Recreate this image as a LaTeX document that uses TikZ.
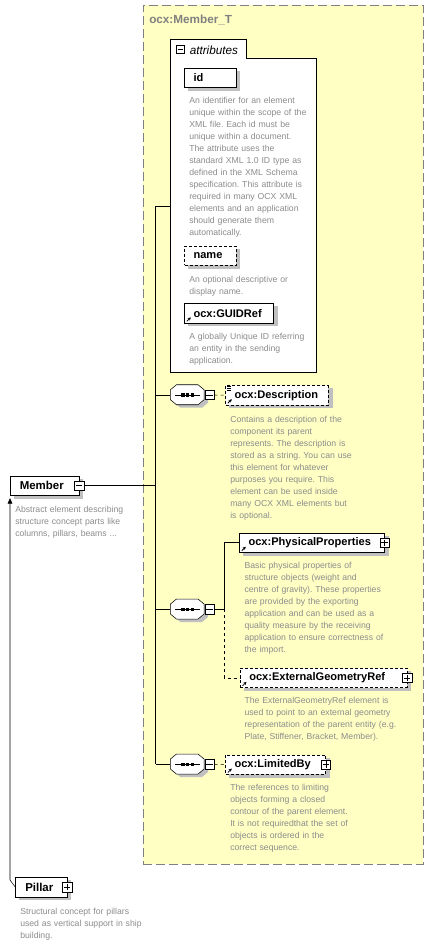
\documentclass[tikz,border=0pt]{standalone}
\usepackage{fontspec}
\setmainfont{Liberation Sans}
\usetikzlibrary{arrows.meta}
\frenchspacing
\pgfdeclarelayer{bglayer}
\pgfdeclarelayer{shadowlayer}
\pgfsetlayers{bglayer,shadowlayer,main}
\newlength\pxu
\setlength\pxu{0.75pt}
\definecolor{frameyellow}{HTML}{FFFFC4}
\definecolor{framegray}{HTML}{808080}
\definecolor{desccol}{HTML}{8C8C8C}
\definecolor{shadowcol}{HTML}{C0C0C0}
\newcommand\seqshape[1]{%
  \fill[shadowcol] ([shift={(4,3)}]#1.north west) ++(6,0) -- ++(21.6,0) -- ++(6,5) -- ++(0,10) -- ++(-6,5) -- ++(-21.6,0) -- ++(-6,-5) -- ++(0,-10) -- cycle;
  \draw[fill=white] (#1.north west) ++(6,0) -- ++(21.6,0) -- ++(6,5) -- ++(0,10) -- ++(-6,5) -- ++(-21.6,0) -- ++(-6,-5) -- ++(0,-10) -- cycle;
  \draw ([shift={(5,0)}]#1.west) -- ([shift={(-4.3,0)}]#1.east);
  \foreach \dx in {-4.6,0,4.6} \fill ([shift={(\dx-1.6,-1.6)}]#1.center) rectangle ++(3.2,3.2);
}
\newcommand\boxshadow[1]{\begin{pgfonlayer}{shadowlayer}\fill[shadowcol] ([shift={(4,3)}]#1.north west) rectangle ([shift={(4,3)}]#1.south east);\end{pgfonlayer}}
\newcommand\minusmark[1]{\draw ([xshift=1.4pt]#1.west) -- ([xshift=-1.4pt]#1.east);}
\newcommand\plusmark[1]{\draw ([xshift=1.4pt]#1.west) -- ([xshift=-1.4pt]#1.east);
  \draw ([yshift=-1.4pt]#1.north) -- ([yshift=1.4pt]#1.south);}
\newcommand\refarrow[1]{\draw[line width=0.6pt,-{Stealth[length=2.4pt,width=2.4pt]}] ([shift={(2.5,-2)}]#1.south west) -- ++(4,-4);}
\begin{document}
\begin{tikzpicture}[x=0.75pt,y=-0.75pt,line width=0.75pt,
  elem/.style={draw,fill=white,anchor=north west,inner xsep=9\pxu,inner ysep=0pt,
    minimum height=19.5\pxu,align=left,font=\fontsize{8.3}{10}\selectfont\bfseries},
  optelem/.style={elem,dash pattern=on 2.25pt off 1.5pt},
  desc/.style={anchor=base west,inner sep=0pt,align=left,text width=190\pxu,
    text=desccol,font=\fontsize{6.5}{9}\selectfont},
  pmbox/.style={draw,fill=white,minimum size=9.5\pxu,inner sep=0pt},
  seqbox/.style={minimum width=33.6\pxu,minimum height=20\pxu,inner sep=0pt},
  dashedline/.style={dash pattern=on 2.25pt off 2.25pt}]
\useasboundingbox (0,0) rectangle (434,945);

% coordinates
\coordinate (tr1) at (155.5,206);
\coordinate (j2) at (224.3,609.3);
\coordinate (pb) at (10,880);

\begin{pgfonlayer}{bglayer}
\fill[white] (0,0) rectangle (434,945);
% frame of the complex type
\node[draw=framegray,fill=frameyellow,dash pattern=on 6.75pt off 3pt,anchor=north west,
  minimum width=280\pxu,minimum height=859\pxu,inner sep=0pt] (frame) at (143,5) {};
% attributes group
\node[anchor=north west,minimum width=145.3\pxu,minimum height=314\pxu,inner sep=0pt] (attr) at (170.7,58) {};
\draw[fill=white] (attr.south west) -- (170.7,39.3) -- (246.7,39.3) -- (246.7,58) -- (attr.north east) -- (attr.south east) -- cycle;
\end{pgfonlayer}

\node[anchor=west,inner sep=0pt,font=\fontsize{8.8}{10}\selectfont\bfseries,text=framegray] (title) at (149,20) {ocx:Member\_T};
\node[pmbox,minimum size=8.5\pxu] (am) at (180.2,49.5) {};
\minusmark{am}
\node[anchor=west,inner sep=0pt,font=\fontsize{8.8}{10}\selectfont\itshape] (attrlabel) at (189.5,50) {attributes};

\node[elem,text width=33.4\pxu] (id) at (184.3,67.7) {id};
\boxshadow{id}
\node[desc] (iddesc) at (189,103.7) {An identifier for an element\\unique within the scope of the\\XML file. Each id must be\\unique within a document.\\The attribute uses the\\standard XML 1.0 ID type as\\defined in the XML Schema\\specification. This attribute is\\required in many OCX XML\\elements and an application\\should generate them\\automatically.};
\node[optelem,text width=33.4\pxu] (name) at (184.3,245.7) {name};
\boxshadow{name}
\node[desc] (namedesc) at (189,282) {An optional descriptive or\\display name.};
\node[elem,text width=71\pxu] (guid) at (184.3,303.3) {ocx:GUIDRef};
\boxshadow{guid}
\refarrow{guid}
\node[desc] (guiddesc) at (189,339.7) {A globally Unique ID referring\\an entity in the sending\\application.};

% trunk
\draw (tr1) -- (tr1 -| attr.west);
\node[seqbox] (s1) at (187.5,395) {};
\node[seqbox] (s2) at (187.5,609.3) {};
\node[seqbox] (s3) at (187.5,764.3) {};
\draw (tr1) -- (tr1 |- s3.west);
\draw (tr1 |- s1.west) -- (s1.west);
\draw (tr1 |- s2.west) -- (s2.west);
\draw (tr1 |- s3.west) -- (s3.west);

% Member
\node[elem,font=\fontsize{8.6}{10}\selectfont\bfseries,text width=49.7\pxu,inner xsep=9.5\pxu,minimum height=19.3\pxu] (member) at (10,475.7) {Member};
\boxshadow{member}
\node[pmbox] (mm) at (member.east) {};
\minusmark{mm}
\draw (mm.east) -- (mm.east -| tr1);
\node[desc] (memberdesc) at (15,512) {Abstract element describing\\structure concept parts like\\columns, pillars, beams ...};

% sequence 1
\seqshape{s1}
\node[pmbox,anchor=west] (m1) at (s1.east) {};
\minusmark{m1}
\node[optelem,text width=84.7\pxu] (descr) at (225.3,385.2) {ocx:Description};
\boxshadow{descr}
\refarrow{descr}
\foreach \dy in {1.3,3.3,5.3} \draw[line width=0.5pt] ([shift={(1.5,\dy)}]descr.north west) -- ++(4,0);
\draw[dashedline] (m1.east) -- (descr.west);
\node[desc] (descrdesc) at (230,422) {Contains a description of the\\component its parent\\represents. The description is\\stored as a string. You can use\\this element for whatever\\purposes you require. This\\element can be used inside\\many OCX XML elements but\\is optional.};

% sequence 2
\seqshape{s2}
\node[pmbox,anchor=west] (m2) at (s2.east) {};
\minusmark{m2}
\node[elem,text width=126.7\pxu] (phys) at (239.3,532.7) {ocx:PhysicalProperties};
\boxshadow{phys}
\refarrow{phys}
\node[pmbox] (pp) at (phys.east) {};
\plusmark{pp}
\node[desc] (physdesc) at (244.3,568.7) {Basic physical properties of\\structure objects (weight and\\centre of gravity). These properties\\are provided by the exporting\\application and can be used as a\\quality measure by the receiving\\application to ensure correctness of\\the import.};
\node[optelem,text width=148.7\pxu] (ext) at (240,667.8) {ocx:ExternalGeometryRef};
\boxshadow{ext}
\refarrow{ext}
\node[pmbox] (pe) at (ext.east) {};
\plusmark{pe}
\node[desc] (extdesc) at (244.3,703.7) {The ExternalGeometryRef element is\\used to point to an external geometry\\representation of the parent entity (e.g.\\Plate, Stiffener, Bracket, Member).};
\draw (m2.east) -- (j2);
\draw (j2) |- (phys.west);
\draw[dashedline] (j2) |- (ext.west);

% sequence 3
\seqshape{s3}
\node[pmbox,anchor=west] (m3) at (s3.east) {};
\minusmark{m3}
\node[optelem,text width=82\pxu] (lim) at (225.3,754.5) {ocx:LimitedBy};
\boxshadow{lim}
\refarrow{lim}
\node[pmbox] (pl) at (lim.east) {};
\plusmark{pl}
\draw[dashedline] (m3.east) -- (lim.west);
\node[desc] (limdesc) at (230,790.7) {The references to limiting\\objects forming a closed\\contour of the parent element.\\It is not requiredthat the set of\\objects is ordered in the\\correct sequence.};

% Pillar
\node[elem,font=\fontsize{8.6}{10}\selectfont\bfseries,text width=32\pxu,inner xsep=9.7\pxu,minimum height=19.7\pxu] (pillar) at (15.3,877) {Pillar};
\boxshadow{pillar}
\node[pmbox] (pl2) at (pillar.east) {};
\plusmark{pl2}
\node[desc] (pillardesc) at (20,914) {Structural concept for pillars\\used as vertical support in ship\\building.};
\draw[-{Triangle[width=3.5pt,length=4pt]},shorten >=2pt] (pillar.west) -- (pb) -- (member.south west);
\end{tikzpicture}
\end{document}
